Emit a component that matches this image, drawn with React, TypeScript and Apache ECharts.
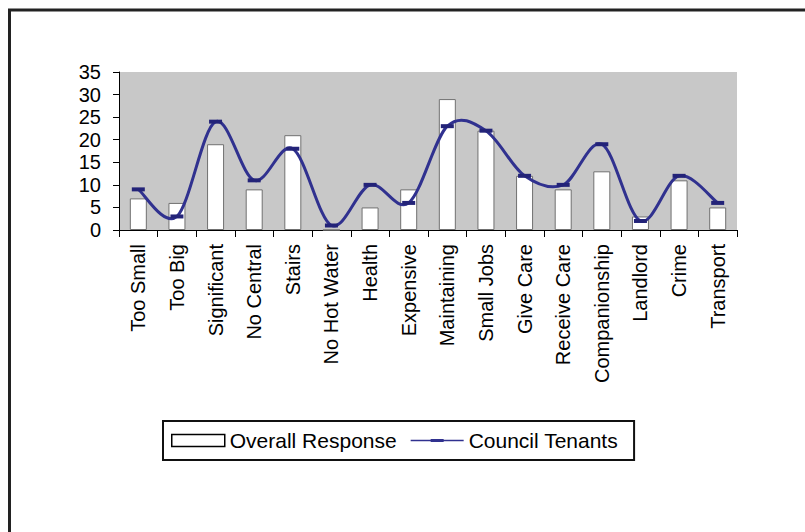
import React, { useEffect, useRef } from "react";
import * as echarts from "echarts";

const categories = [
  "Too Small", "Too Big", "Significant", "No Central", "Stairs", "No Hot Water",
  "Health", "Expensive", "Maintaining", "Small Jobs", "Give Care", "Receive Care",
  "Companionship", "Landlord", "Crime", "Transport",
];
const overallResponse = [7, 6, 19, 9, 21, 0, 5, 9, 29, 22, 12, 9, 13, 3, 11, 5];
const councilTenants = [9, 3, 24, 11, 18, 1, 10, 6, 23, 22, 12, 10, 19, 2, 12, 6];

export default function App() {
  const ref = useRef<HTMLDivElement>(null);
  useEffect(() => {
    if (!ref.current) return;
    const chart = echarts.init(ref.current, null, { renderer: "svg" });
    const font = "Arial, 'Liberation Sans', sans-serif";
    const lineColor = "#30318f";
    const n = councilTenants.length;

    const renderSegment = (params: any, api: any) => {
      const i = params.dataIndex;
      if (i >= n - 1) return null;
      const pt = (k: number) => {
        const kk = Math.max(0, Math.min(n - 1, k));
        return api.coord([kk, councilTenants[kk]]);
      };
      const p0 = pt(i - 1);
      const p1 = pt(i);
      const p2 = pt(i + 1);
      const p3 = pt(i + 2);
      const t = 6;
      const c1 = [p1[0] + (p2[0] - p0[0]) / t, p1[1] + (p2[1] - p0[1]) / t];
      const c2 = [p2[0] - (p3[0] - p1[0]) / t, p2[1] - (p3[1] - p1[1]) / t];
      return {
        type: "bezierCurve",
        shape: {
          x1: p1[0], y1: p1[1],
          x2: p2[0], y2: p2[1],
          cpx1: c1[0], cpy1: c1[1],
          cpx2: c2[0], cpy2: c2[1],
        },
        style: { stroke: lineColor, lineWidth: 3, fill: "none" },
        silent: true,
      };
    };

    const legendLineIcon =
      "path://M0,0h0.01v0.01h-0.01Z M0,12h0.01v-0.01h-0.01Z M53,0h-0.01v0.01h0.01Z M53,12h-0.01v-0.01h0.01Z M0,5.3H53V6.7H0Z M20,4.6H33V7.4H20Z";

    chart.setOption({
      animation: false,
      backgroundColor: "#ffffff",
      grid: {
        left: 119,
        top: 72,
        right: 68,
        bottom: 302,
        show: true,
        backgroundColor: "#c8c8c8",
        borderWidth: 0,
      },
      graphic: [
        {
          type: "rect",
          shape: { x: 9.5, y: 10, width: 900, height: 700 },
          style: { fill: "none", stroke: "#222222", lineWidth: 3 },
          silent: true,
        },
      ],
      legend: {
        left: 163,
        top: 421,
        padding: [9, 16, 9, 8],
        itemGap: 14,
        itemWidth: 53,
        itemHeight: 12,
        borderColor: "#111111",
        borderWidth: 2,
        backgroundColor: "#ffffff",
        textStyle: { fontFamily: font, fontSize: 21, color: "#000000" },
        data: [
          {
            name: "Overall Response",
            icon: "rect",
            itemStyle: { color: "#ffffff", borderColor: "#000000", borderWidth: 1.5 },
          },
          {
            name: "Council Tenants",
            icon: legendLineIcon,
            itemStyle: { color: lineColor, borderWidth: 0 },
          },
        ],
      },
      xAxis: {
        type: "category",
        data: categories,
        boundaryGap: true,
        axisLine: { lineStyle: { color: "#000000", width: 1 } },
        axisTick: { show: true, inside: false, length: 7, lineStyle: { color: "#000000" } },
        axisLabel: {
          rotate: 90,
          interval: 0,
          margin: 14,
          fontFamily: font,
          fontSize: 20,
          color: "#000000",
        },
        splitLine: { show: false },
      },
      yAxis: {
        type: "value",
        min: 0,
        max: 35,
        interval: 5,
        axisLine: { show: true, lineStyle: { color: "#000000", width: 1 } },
        axisTick: { show: true, length: 6, lineStyle: { color: "#000000" } },
        axisLabel: { margin: 18, fontFamily: font, fontSize: 20, color: "#000000" },
        splitLine: { show: false },
      },
      series: [
        {
          name: "Overall Response",
          type: "bar",
          data: overallResponse,
          barWidth: 17,
          itemStyle: { color: "#ffffff", borderColor: "#707070", borderWidth: 1 },
          z: 2,
        },
        {
          name: "Council Tenants",
          type: "custom",
          renderItem: renderSegment,
          data: councilTenants.map((v, i) => [i, v]),
          encode: { x: 0, y: 1 },
          z: 3,
        },
        {
          name: "Council Tenants",
          type: "line",
          data: councilTenants,
          symbol: "rect",
          symbolSize: [13, 4],
          showAllSymbol: true,
          lineStyle: { width: 0, opacity: 0 },
          itemStyle: { color: "#232378", borderWidth: 0 },
          z: 4,
        },
      ],
    });
    return () => chart.dispose();
  }, []);
  return (
    <div
      ref={ref}
      style={{ position: "fixed", left: 0, top: 0, width: 805, height: 532 }}
    />
  );
}
